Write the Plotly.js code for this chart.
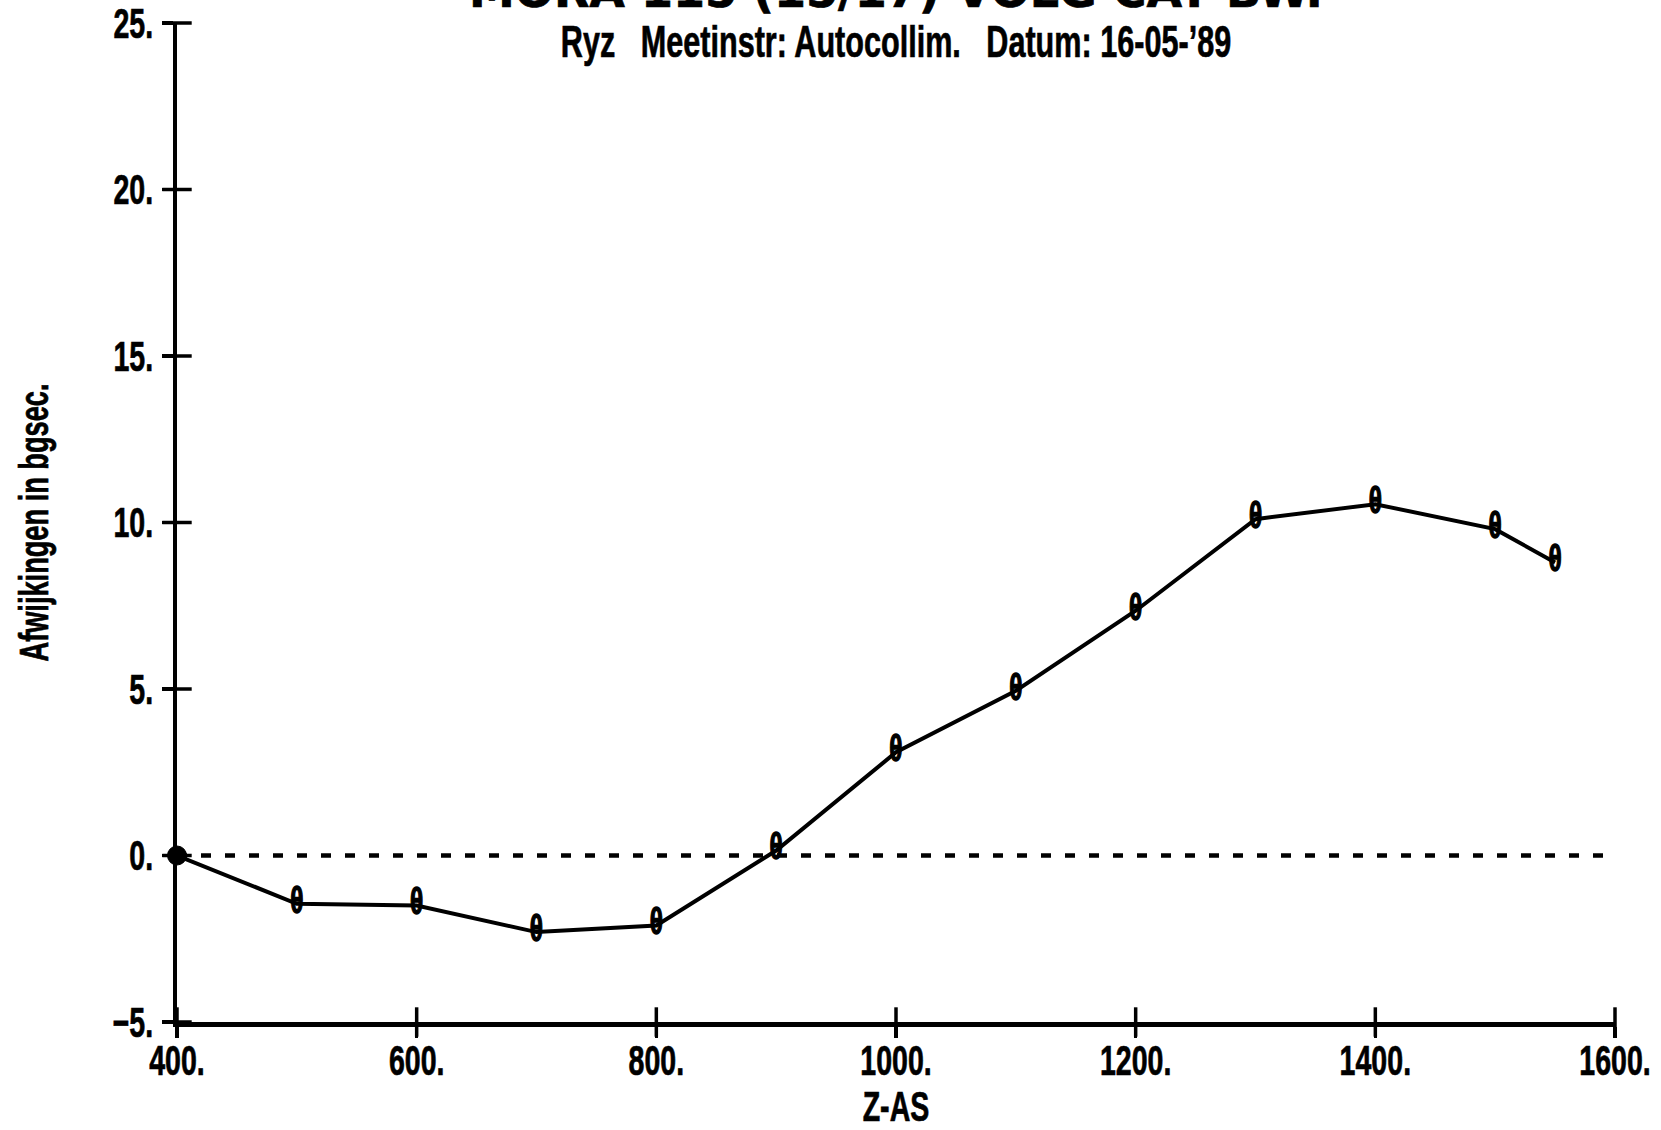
<!DOCTYPE html>
<html>
<head>
<meta charset="utf-8">
<script src="https://cdn.plot.ly/plotly-3.0.1.min.js"></script>
<style>
  html, body { margin: 0; padding: 0; background: #fff; }
  #chart { width: 1661px; height: 1130px; }
  #chart svg text { stroke: #000; stroke-width: 0.7px; }
  #chart .textpoint text { stroke-width: 1.4px; }
</style>
</head>
<body>
<div id="chart"></div>
<script>
// Measured positions along the Z axis and the deviation at each one
const zPositions = [400, 500, 600, 700, 800, 900, 1000, 1100, 1200, 1300, 1400, 1500, 1550];
const deviations = [0, -1.45, -1.5, -2.3, -2.1, 0.15, 3.1, 4.95, 7.35, 10.1, 10.55, 9.8, 8.8];
const pointSymbols = ['', 'θ', 'θ', 'θ', 'θ', 'θ', 'θ', 'θ', 'θ', 'θ', 'θ', 'θ', 'θ'];
const pointSizes = [19, 0, 0, 0, 0, 0, 0, 0, 0, 0, 0, 0, 0];

// Reference line at zero deviation
const referenceX = [400, 1600];
const referenceY = [0, 0];

// Axis extents and ticks
const xRange = [400, 1600];
const yRange = [-5, 25];
const xTickVals = [400, 600, 800, 1000, 1200, 1400, 1600];
const xTickText = ['400.', '600.', '800.', '1000.', '1200.', '1400.', '1600.'];
const yTickVals = [-5, 0, 5, 10, 15, 20, 25];
const yTickText = ['−5.', '0.', '5.', '10.', '15.', '20.', '25.'];

const headerText = 'MORA 115 (15/17) VOLG CAT BW.';
const subText = 'Ryz\u00a0\u00a0\u00a0Meetinstr: Autocollim.\u00a0\u00a0\u00a0Datum: 16-05-’89';

// Plotter-style lettering: a bold sans face, narrowed horizontally after drawing
const FONT = '"Liberation Sans", Arimo, sans-serif';
const NARROW = 0.68;
const INK = '#000000';

// Tick crosses: short strokes centred on each axis line
const xCross = {
  x: xTickVals,
  y: xTickVals.map(function () { return yRange[0]; }),
  mode: 'markers',
  marker: { symbol: 'line-ns-open', size: 21, color: INK, line: { color: INK, width: 3.5 } },
  cliponaxis: false, hoverinfo: 'skip', showlegend: false
};
const yCross = {
  x: yTickVals.map(function () { return xRange[0]; }),
  y: yTickVals,
  mode: 'markers',
  marker: { symbol: 'line-ew-open', size: 21, color: INK, line: { color: INK, width: 3.5 } },
  cliponaxis: false, hoverinfo: 'skip', showlegend: false
};

const traces = [
  {
    x: referenceX,
    y: referenceY,
    mode: 'lines',
    line: { color: INK, width: 4.5, dash: '10px,14px' },
    hoverinfo: 'skip',
    showlegend: false
  },
  xCross,
  yCross,
  {
    x: zPositions,
    y: deviations,
    mode: 'lines+markers+text',
    line: { color: INK, width: 4 },
    marker: { color: INK, opacity: 1, size: pointSizes, symbol: 'circle', line: { color: INK, width: 1 } },
    text: pointSymbols,
    textposition: 'middle center',
    textfont: { family: FONT, size: 36, color: INK, weight: 'bold' },
    cliponaxis: false,
    showlegend: false
  }
];

const axisCommon = {
  showgrid: false,
  zeroline: false,
  showline: true,
  linecolor: INK,
  linewidth: 4.5,
  ticks: 'outside',
  ticklen: 11,
  tickwidth: 3.5,
  tickcolor: INK,
  tickfont: { family: FONT, size: 42, color: INK, weight: 'bold' },
  ticklabeloverflow: 'allow',
  fixedrange: true
};

const layout = {
  width: 1661,
  height: 1130,
  paper_bgcolor: '#ffffff',
  plot_bgcolor: '#ffffff',
  margin: { l: 177, r: 46, t: 23, b: 108 },
  font: { family: FONT, color: INK },
  showlegend: false,
  xaxis: Object.assign({}, axisCommon, {
    range: xRange,
    tickmode: 'array',
    tickvals: xTickVals,
    ticktext: xTickText,
    ticklabelstandoff: -13,
    title: { text: 'Z-AS', font: { family: FONT, size: 42, color: INK, weight: 'bold' }, standoff: 27 }
  }),
  yaxis: Object.assign({}, axisCommon, {
    range: yRange,
    tickmode: 'array',
    tickvals: yTickVals,
    ticktext: yTickText,
    ticklabelstandoff: 0,
    title: { text: 'Afwijkingen in bgsec.', font: { family: FONT, size: 40, color: INK, weight: 'bold' }, standoff: 34 }
  }),
  annotations: [
    {
      text: headerText,
      xref: 'paper', yref: 'paper', x: 0.5, y: 1.003,
      xanchor: 'center', yanchor: 'bottom', showarrow: false,
      font: { family: '"DejaVu Sans", sans-serif', size: 46, color: INK, weight: 'bold' }
    },
    {
      text: subText,
      xref: 'paper', yref: 'paper', x: 0.5, y: 0.981,
      xanchor: 'center', yanchor: 'middle', showarrow: false,
      font: { family: FONT, size: 45, color: INK, weight: 'bold' }
    }
  ]
};

// Narrow every Liberation-set label about its own anchor point
function narrowLettering() {
  document.querySelectorAll('#chart svg text').forEach(function (t) {
    const fam = (t.style.fontFamily || '') + ' ' + (t.getAttribute('font-family') || '');
    if (fam.indexOf('Liberation') === -1) return;
    const x = parseFloat(t.getAttribute('x')) || 0;
    const prev = t.getAttribute('transform') || '';
    t.setAttribute('transform',
      prev + ' translate(' + x + ',0) scale(' + NARROW + ',1) translate(' + (-x) + ',0)');
  });
}

Plotly.newPlot('chart', traces, layout, { staticPlot: true, displayModeBar: false })
  .then(narrowLettering);
</script>
</body>
</html>
